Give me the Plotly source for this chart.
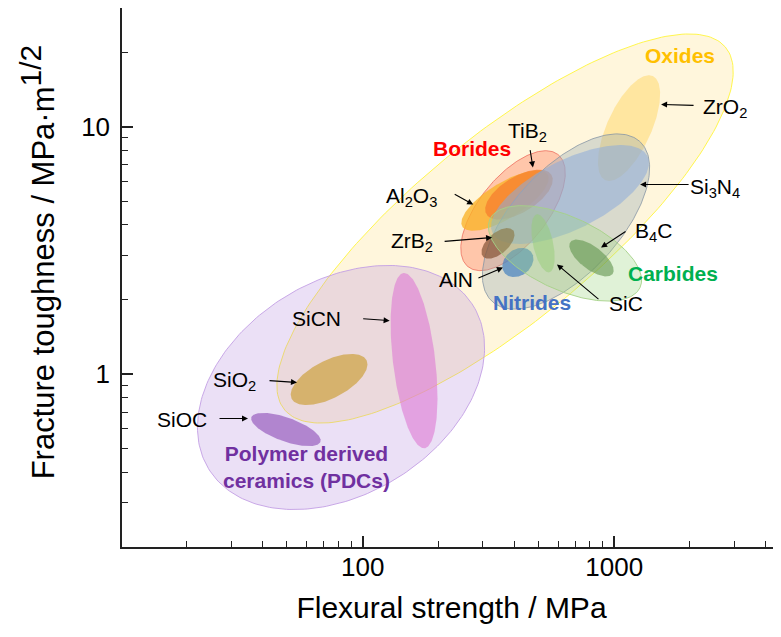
import numpy as np
import plotly.graph_objects as go

# ---------------- data ----------------
# ellipse regions: centre (flexural strength MPa, toughness MPa*m^1/2),
# semi-axes in decades, orientation (deg, log-log space)
names = ["Oxides", "PDCs", "SiCN", "SiO2", "SiOC", "ZrO2", "Borides", "Al2O3", "TiB2",
         "Nitrides", "Si3N4", "ZrB2", "AlN", "Carbides", "SiC", "B4C"]
center_strength = [368, 82.0, 160, 73.5, 49.5, 1145, 396, 368, 418,
                   643, 667, 345, 414, 637, 521, 812]
center_toughness = [3.87, 0.88, 1.13, 0.948, 0.595, 9.86, 4.57, 5.02, 5.31,
                    4.13, 5.31, 3.37, 2.82, 3.07, 3.37, 2.94]
major_dec = [1.143, 0.621, 0.357, 0.168, 0.146, 0.231, 0.289, 0.200, 0.152,
             0.437, 0.345, 0.080, 0.068, 0.329, 0.120, 0.106]
minor_dec = [0.369, 0.429, 0.084, 0.076, 0.048, 0.088, 0.136, 0.072, 0.072,
             0.213, 0.140, 0.042, 0.052, 0.148, 0.040, 0.046]
angle_deg = [40, 33, 96.7, 28, -20, 66, 52, 32, 32,
             48, 27, 42, 40, -25, 102, -38]

x_tickvals = [100, 1000]
x_ticktext = ["100", "1000"]
y_tickvals = [1, 10]
y_ticktext = ["1", "10"]
x_minor = [20, 30, 40, 50, 60, 70, 80, 90, 200, 300, 400, 500, 600, 700, 800, 900, 2000, 3000, 4000]
y_minor = [0.2, 0.3, 0.4, 0.5, 0.6, 0.7, 0.8, 0.9, 2, 3, 4, 5, 6, 7, 8, 9, 20]

# ---------------- styles ----------------
fills = {
    "Oxides": "rgba(255,222,120,0.26)",
    "PDCs": "rgba(180,140,222,0.27)",
    "SiCN": "rgba(222,125,212,0.62)",
    "SiO2": "rgba(208,166,78,0.78)",
    "SiOC": "rgba(160,108,196,0.78)",
    "ZrO2": "rgba(255,214,100,0.5)",
    "Borides": "rgba(255,120,90,0.38)",
    "Al2O3": "rgba(250,178,40,0.78)",
    "TiB2": "rgba(247,125,45,0.75)",
    "Nitrides": "rgba(150,168,180,0.36)",
    "Si3N4": "rgba(140,172,218,0.55)",
    "ZrB2": "rgba(135,85,55,0.72)",
    "AlN": "rgba(70,130,192,0.7)",
    "Carbides": "rgba(160,215,130,0.32)",
    "SiC": "rgba(150,205,120,0.5)",
    "B4C": "rgba(100,150,80,0.62)",
}
lines = {
    "Oxides": ("rgba(255,245,60,0.9)", 1),
    "PDCs": ("rgba(195,160,228,0.9)", 1),
    "Borides": ("rgba(238,110,95,0.8)", 1),
    "Nitrides": ("rgba(135,150,165,0.8)", 1),
    "Carbides": ("rgba(165,210,135,0.9)", 1),
}

fig = go.Figure()
t = np.linspace(0, 2 * np.pi, 241)
for i, n in enumerate(names):
    th = np.deg2rad(angle_deg[i])
    a, b = major_dec[i], minor_dec[i]
    lx = np.log10(center_strength[i]) + a * np.cos(t) * np.cos(th) - b * np.sin(t) * np.sin(th)
    ly = np.log10(center_toughness[i]) + a * np.cos(t) * np.sin(th) + b * np.sin(t) * np.cos(th)
    lc, lw = lines.get(n, ("rgba(0,0,0,0)", 0))
    fig.add_trace(go.Scatter(x=10 ** lx, y=10 ** ly, mode="lines", fill="toself",
                             fillcolor=fills[n], line=dict(color=lc, width=lw),
                             hoverinfo="skip", showlegend=False))

FONT = "Liberation Sans, Arial, sans-serif"

# text labels: (text, x, y, color, bold)
labels = [
    ("Oxides", 1827, 19.4, "#FFC000", True),
    ("Borides", 272, 8.15, "#FF0000", True),
    ("Nitrides", 471, 1.94, "#4472C4", True),
    ("Carbides", 1714, 2.54, "#00B050", True),
    ("Polymer derived<br>ceramics (PDCs)", 59.5, 0.418, "#7030A0", True),
    ("ZrO<sub>2</sub>", 2758, 11.94, "black", False),
    ("TiB<sub>2</sub>", 450, 9.54, "black", False),
    ("Al<sub>2</sub>O<sub>3</sub>", 157, 5.21, "black", False),
    ("ZrB<sub>2</sub>", 157, 3.40, "black", False),
    ("AlN", 235, 2.41, "black", False),
    ("SiC", 1114, 1.92, "black", False),
    ("B<sub>4</sub>C", 1439, 3.76, "black", False),
    ("Si<sub>3</sub>N<sub>4</sub>", 2517, 5.67, "black", False),
    ("SiCN", 65.8, 1.67, "black", False),
    ("SiO<sub>2</sub>", 31.0, 0.931, "black", False),
    ("SiOC", 19.1, 0.653, "black", False),
]
for txt, x, y, c, bold in labels:
    fig.add_annotation(x=np.log10(x), y=np.log10(y), text=(f"<b>{txt}</b>" if bold else txt),
                       showarrow=False, xanchor="center", yanchor="middle",
                       font=dict(family=FONT, size=21, color=c))

# arrows: head point (data) and tail offset (px)
arrows = [
    (1535, 12.3, 34, 1),
    (1267, 5.83, 50, 0),
    (475, 6.83, -3, -19),
    (275, 4.84, -20, -11),
    (327, 3.56, -49, 4),
    (361, 2.69, -26, 11),
    (592, 2.77, 43, 36),
    (886, 3.24, 26, -17),
    (128, 1.64, -28, -2),
    (54.8, 0.922, -29, -2),
    (35.0, 0.659, -30, 0),
]
for x, y, ax, ay in arrows:
    fig.add_annotation(x=np.log10(x), y=np.log10(y), ax=ax, ay=ay, text="",
                       showarrow=True, arrowhead=2, arrowsize=1.1, arrowwidth=1.1,
                       arrowcolor="black")

# y-axis title as a rotated annotation (precise placement)
fig.add_annotation(xref="paper", yref="paper", x=-0.129, y=0.53,
                   text="Fracture toughness / MPa·m<sup><span style='font-size:30px'>1/2</span></sup>",
                   textangle=-90, showarrow=False, xanchor="center", yanchor="middle",
                   font=dict(family=FONT, size=31, color="black"))

fig.update_xaxes(type="log", range=[1.043, 3.663], tickmode="array",
                 tickvals=x_tickvals, ticktext=x_ticktext, automargin=False,
                 ticks="inside", ticklen=11, tickwidth=1.5, tickcolor="#222",
                 ticklabelstandoff=-4,
                 showline=True, linecolor="#222", linewidth=1.5, mirror=True,
                 showgrid=False, zeroline=False,
                 minor=dict(ticks="inside", ticklen=6, tickwidth=1.2, tickcolor="#222",
                            tickmode="array", tickvals=x_minor, showgrid=False),
                 tickfont=dict(family=FONT, size=26, color="black"),
                 title=dict(text="Flexural strength / MPa", standoff=16,
                            font=dict(family=FONT, size=30, color="black")))
fig.update_yaxes(type="log", range=[-0.701, 1.480], tickmode="array",
                 tickvals=y_tickvals, ticktext=y_ticktext, automargin=False,
                 ticks="inside", ticklen=11, tickwidth=1.5, tickcolor="#222",
                 ticklabelstandoff=5,
                 showline=True, linecolor="#222", linewidth=1.5, mirror=False,
                 showgrid=False, zeroline=False,
                 minor=dict(ticks="inside", ticklen=6, tickwidth=1.2, tickcolor="#222",
                            tickmode="array", tickvals=y_minor, showgrid=False),
                 tickfont=dict(family=FONT, size=26, color="black"))

# page body adds an 8px offset; size the figure so the plot area lands where the reference has it
fig.update_layout(width=773, height=629, margin=dict(l=114, r=0, t=0, b=90),
                  plot_bgcolor="white", paper_bgcolor="white", showlegend=False)

fig.write_html("out.html")
